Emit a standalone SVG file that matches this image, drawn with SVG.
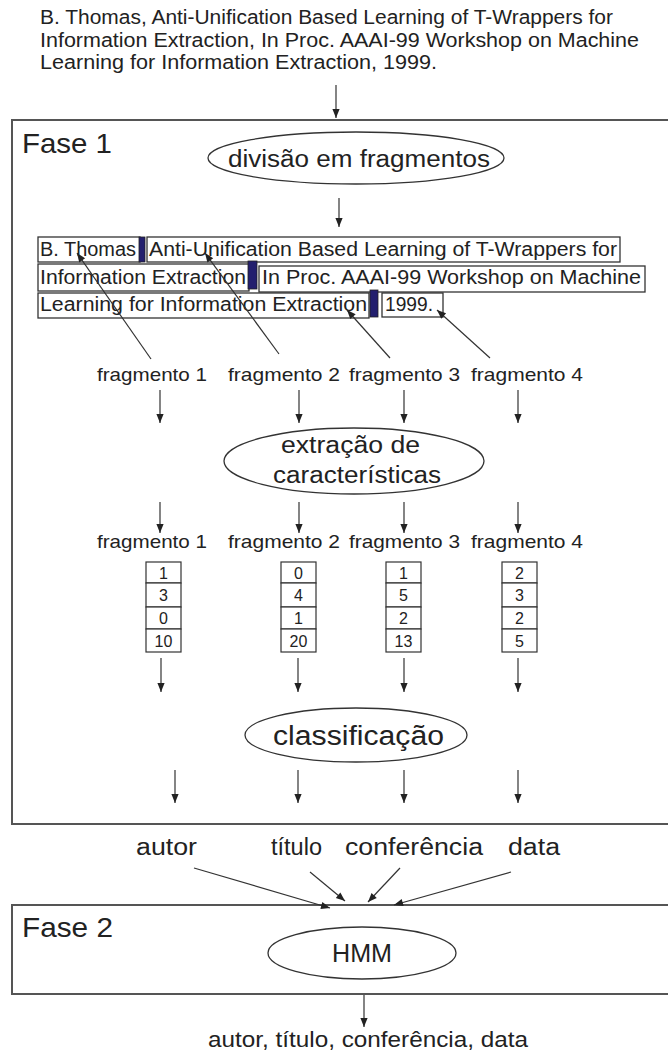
<svg xmlns="http://www.w3.org/2000/svg" width="668" height="1057" viewBox="0 0 668 1057">
<style>
text{font-family:"Liberation Sans",Arial,sans-serif;fill:#222}
.frame{fill:none;stroke:#555;stroke-width:2}
.ell{fill:#fff;stroke:#333;stroke-width:1.3}
.box{fill:#fff;stroke:#333;stroke-width:1.3}
.bar{fill:#231f6e;stroke:#222;stroke-width:0.8}
.cell{fill:#fff;stroke:#333;stroke-width:1.2}
.ln{stroke:#333;stroke-width:1.2;fill:none;marker-end:url(#ah)}
.t19{font-size:20px}
.t18{font-size:19px}
.num{font-size:16px;text-anchor:middle}
</style>
<defs>
<marker id="ah" viewBox="0 0 10 10" refX="10" refY="5" markerWidth="10" markerHeight="9" markerUnits="userSpaceOnUse" orient="auto">
<path d="M0,1 L10,5 L0,9 z" fill="#222"/>
</marker>
</defs>

<g id="source-text">
<text class="t19" x="40" y="24" textLength="573" lengthAdjust="spacingAndGlyphs">B. Thomas, Anti-Unification Based Learning of T-Wrappers for</text>
<text class="t19" x="40" y="47" textLength="599" lengthAdjust="spacingAndGlyphs">Information Extraction, In  Proc. AAAI-99 Workshop on Machine</text>
<text class="t19" x="40" y="69" textLength="397" lengthAdjust="spacingAndGlyphs">Learning for Information Extraction, 1999.</text>
</g>

<g id="fase1">
<rect class="frame" x="12" y="120" width="680" height="704"/>
<text x="22" y="153" font-size="28" textLength="90" lengthAdjust="spacingAndGlyphs">Fase 1</text>
</g>

<g id="divisao">
<ellipse class="ell" cx="356" cy="158" rx="148" ry="26"/>
<text x="228" y="167" font-size="23" textLength="262" lengthAdjust="spacingAndGlyphs">divisão em fragmentos</text>
</g>

<g id="fragmented-text">
<rect class="box" x="38" y="237" width="102" height="25"/>
<rect class="bar" x="139" y="237" width="6" height="25"/>
<rect class="box" x="147" y="237" width="473" height="25"/>
<text class="t19" x="40" y="256" textLength="96" lengthAdjust="spacingAndGlyphs">B. Thomas</text>
<text class="t19" x="149" y="256" textLength="468" lengthAdjust="spacingAndGlyphs">Anti-Unification Based Learning of T-Wrappers for</text>
<rect class="box" x="38" y="264" width="211" height="27"/>
<rect class="bar" x="248" y="261" width="9" height="28"/>
<rect class="box" x="259" y="266" width="386" height="26"/>
<text class="t19" x="40" y="284" textLength="206" lengthAdjust="spacingAndGlyphs">Information Extraction</text>
<text class="t19" x="262" y="284" textLength="379" lengthAdjust="spacingAndGlyphs">In  Proc. AAAI-99 Workshop on Machine</text>
<rect class="box" x="38" y="293" width="331" height="25"/>
<rect class="bar" x="370" y="290" width="8" height="27"/>
<rect class="box" x="382" y="293" width="61" height="24"/>
<text class="t19" x="40" y="311" textLength="327" lengthAdjust="spacingAndGlyphs">Learning for Information Extraction</text>
<text class="t19" x="385" y="311" textLength="48" lengthAdjust="spacingAndGlyphs">1999.</text>
</g>

<g id="fragment-labels-1">
<text class="t18" x="97" y="381" textLength="110" lengthAdjust="spacingAndGlyphs">fragmento 1</text>
<text class="t18" x="228" y="381" textLength="112" lengthAdjust="spacingAndGlyphs">fragmento 2</text>
<text class="t18" x="349" y="381" textLength="111" lengthAdjust="spacingAndGlyphs">fragmento 3</text>
<text class="t18" x="471" y="381" textLength="112" lengthAdjust="spacingAndGlyphs">fragmento 4</text>
</g>

<g id="extracao">
<ellipse class="ell" cx="354" cy="461" rx="130" ry="33"/>
<text x="281" y="453" font-size="23" textLength="139" lengthAdjust="spacingAndGlyphs">extração de</text>
<text x="273" y="483" font-size="23" textLength="168" lengthAdjust="spacingAndGlyphs">características</text>
</g>

<g id="fragment-labels-2">
<text class="t18" x="97" y="548" textLength="110" lengthAdjust="spacingAndGlyphs">fragmento 1</text>
<text class="t18" x="228" y="548" textLength="112" lengthAdjust="spacingAndGlyphs">fragmento 2</text>
<text class="t18" x="349" y="548" textLength="111" lengthAdjust="spacingAndGlyphs">fragmento 3</text>
<text class="t18" x="471" y="548" textLength="112" lengthAdjust="spacingAndGlyphs">fragmento 4</text>
</g>

<g id="vector-1">
<rect class="cell" x="146" y="562" width="35" height="21"/>
<rect class="cell" x="146" y="583" width="35" height="24"/>
<rect class="cell" x="146" y="607" width="35" height="22"/>
<rect class="cell" x="146" y="629" width="35" height="23"/>
<text class="num" x="163.5" y="579">1</text>
<text class="num" x="163.5" y="601">3</text>
<text class="num" x="163.5" y="624">0</text>
<text class="num" x="163.5" y="647">10</text>
</g>
<g id="vector-2">
<rect class="cell" x="281" y="562" width="35" height="21"/>
<rect class="cell" x="281" y="583" width="35" height="24"/>
<rect class="cell" x="281" y="607" width="35" height="22"/>
<rect class="cell" x="281" y="629" width="35" height="23"/>
<text class="num" x="298.5" y="579">0</text>
<text class="num" x="298.5" y="601">4</text>
<text class="num" x="298.5" y="624">1</text>
<text class="num" x="298.5" y="647">20</text>
</g>
<g id="vector-3">
<rect class="cell" x="386" y="562" width="35" height="21"/>
<rect class="cell" x="386" y="583" width="35" height="24"/>
<rect class="cell" x="386" y="607" width="35" height="22"/>
<rect class="cell" x="386" y="629" width="35" height="23"/>
<text class="num" x="403.5" y="579">1</text>
<text class="num" x="403.5" y="601">5</text>
<text class="num" x="403.5" y="624">2</text>
<text class="num" x="403.5" y="647">13</text>
</g>
<g id="vector-4">
<rect class="cell" x="502" y="562" width="35" height="21"/>
<rect class="cell" x="502" y="583" width="35" height="24"/>
<rect class="cell" x="502" y="607" width="35" height="22"/>
<rect class="cell" x="502" y="629" width="35" height="23"/>
<text class="num" x="519.5" y="579">2</text>
<text class="num" x="519.5" y="601">3</text>
<text class="num" x="519.5" y="624">2</text>
<text class="num" x="519.5" y="647">5</text>
</g>

<g id="classificacao">
<ellipse class="ell" cx="356" cy="735" rx="111" ry="27"/>
<text x="273" y="745" font-size="27" textLength="171" lengthAdjust="spacingAndGlyphs">classificação</text>
</g>

<g id="class-labels">
<text x="136" y="855" font-size="23" textLength="61" lengthAdjust="spacingAndGlyphs">autor</text>
<text x="271" y="855" font-size="23" textLength="51" lengthAdjust="spacingAndGlyphs">título</text>
<text x="345" y="855" font-size="23" textLength="138" lengthAdjust="spacingAndGlyphs">conferência</text>
<text x="508" y="855" font-size="23" textLength="52" lengthAdjust="spacingAndGlyphs">data</text>
</g>

<g id="fase2">
<rect class="frame" x="12" y="905" width="680" height="89"/>
<text x="22" y="937" font-size="28" textLength="91" lengthAdjust="spacingAndGlyphs">Fase 2</text>
</g>

<g id="hmm">
<ellipse class="ell" cx="362" cy="953" rx="94" ry="26"/>
<text x="332" y="962" font-size="25" textLength="60" lengthAdjust="spacingAndGlyphs">HMM</text>
</g>

<g id="output">
<text x="208" y="1047" font-size="22" textLength="320" lengthAdjust="spacingAndGlyphs">autor, título, conferência, data</text>
</g>

<g id="connectors">
<line class="ln" x1="336" y1="85" x2="336" y2="118"/>
<line class="ln" x1="339" y1="198" x2="339" y2="227"/>
<line class="ln" x1="151" y1="359" x2="77" y2="253"/>
<line class="ln" x1="279" y1="354" x2="205" y2="253"/>
<line class="ln" x1="390" y1="358" x2="347" y2="310"/>
<line class="ln" x1="490" y1="358" x2="437" y2="310"/>
<line class="ln" x1="160" y1="390" x2="160" y2="423"/>
<line class="ln" x1="299" y1="390" x2="299" y2="423"/>
<line class="ln" x1="404" y1="390" x2="404" y2="423"/>
<line class="ln" x1="518" y1="390" x2="518" y2="423"/>
<line class="ln" x1="160" y1="502" x2="160" y2="533"/>
<line class="ln" x1="299" y1="502" x2="299" y2="533"/>
<line class="ln" x1="404" y1="502" x2="404" y2="533"/>
<line class="ln" x1="518" y1="502" x2="518" y2="533"/>
<line class="ln" x1="161" y1="658" x2="161" y2="692"/>
<line class="ln" x1="298" y1="658" x2="298" y2="692"/>
<line class="ln" x1="404" y1="658" x2="404" y2="692"/>
<line class="ln" x1="518" y1="658" x2="518" y2="692"/>
<line class="ln" x1="175" y1="770" x2="175" y2="803"/>
<line class="ln" x1="298" y1="770" x2="298" y2="803"/>
<line class="ln" x1="404" y1="770" x2="404" y2="803"/>
<line class="ln" x1="518" y1="770" x2="518" y2="803"/>
<line class="ln" x1="194" y1="868" x2="330" y2="908"/>
<line class="ln" x1="310" y1="872" x2="345" y2="901"/>
<line class="ln" x1="400" y1="868" x2="368" y2="902"/>
<line class="ln" x1="511" y1="872" x2="394" y2="905"/>
<line class="ln" x1="364" y1="995" x2="364" y2="1027"/>
</g>
</svg>
